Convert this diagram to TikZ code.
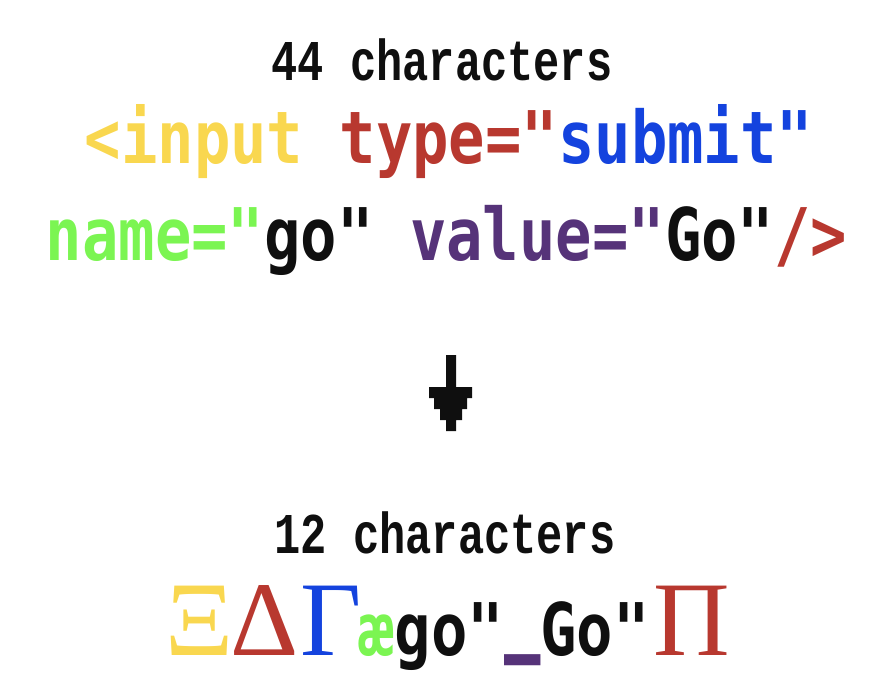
\documentclass[tikz,border=0pt]{standalone}
\usepackage{fontspec}
\newfontfamily\codefont{DejaVu Sans Mono}
\newfontfamily\headfont{Liberation Mono}
\newfontfamily\greekfont{Liberation Serif}
\definecolor{cy}{HTML}{F9D74F}
\definecolor{cr}{HTML}{B8382F}
\definecolor{cb}{HTML}{1443DE}
\definecolor{cg}{HTML}{7BF552}
\definecolor{cp}{HTML}{563379}
\definecolor{ck}{HTML}{0F0F0F}
\tikzset{
  txt/.style={inner sep=0pt, outer sep=0pt, anchor=base},
  headtxt/.style={txt, font=\headfont\bfseries\fontsize{43.7}{50}\selectfont, text=ck},
  codetxt/.style={txt, font=\codefont\bfseries\fontsize{60.5}{70}\selectfont},
  greektxt/.style={txt, font=\greekfont\fontsize{106}{110}\selectfont},
  pixarrow/.style={fill=ck, draw=none}
}
\begin{document}
\begin{tikzpicture}[x=1pt,y=-1pt]
\useasboundingbox (0,0) rectangle (880,689);
% headings
\node[headtxt] (h1) at (442,80) {\scalebox{1}[1.32]{44 characters}};
\node[headtxt] (h2) at (445,553) {\scalebox{1}[1.32]{12 characters}};
% code lines
\node[codetxt] (l1) at (449,163) {\scalebox{1}[1.2]{\textcolor{cy}{<input} \textcolor{cr}{type="}\textcolor{cb}{submit"}}};
\node[codetxt] (l2) at (446.5,260) {\scalebox{1}[1.2]{\textcolor{cg}{name="}\textcolor{ck}{go"} \textcolor{cp}{value="}\textcolor{ck}{Go"}\textcolor{cr}{/>}}};
% pixel arrow
\fill[pixarrow] (446,355) -- (456,355) -- (456,387) -- (472,387) -- (472,398) -- (467,398) -- (467,409) -- (462,409) -- (462,420) -- (456,420) -- (456,431) -- (446,431) -- (446,420) -- (440,420) -- (440,409) -- (434,409) -- (434,398) -- (429,398) -- (429,387) -- (446,387) -- cycle;
% result line
\node[greektxt, text=cy] (xi) at (199.5,655) {Ξ};
\node[greektxt, text=cr] (de) at (265,655) {Δ};
\node[greektxt, text=cb] (ga) at (331,655) {Γ};
\node[codetxt, text=ck] (mono) at (504,655) {\scalebox{1}[1.2]{\textcolor{cg}{æ}go"\textcolor{cp}{\raisebox{14.6pt}{\scalebox{1}[1.65]{\_}}}Go"}};
\node[greektxt, text=cr] (pi) at (691.5,655) {Π};
\end{tikzpicture}
\end{document}
